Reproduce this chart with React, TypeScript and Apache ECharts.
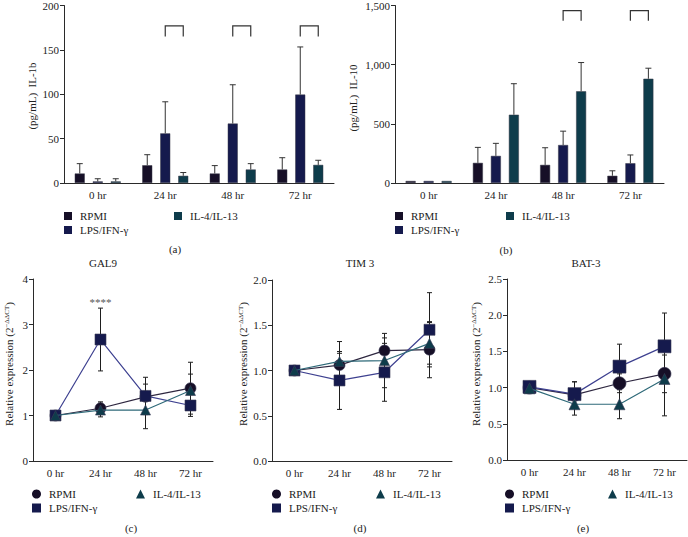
import React, { useEffect, useRef } from "react";
import * as echarts from "echarts";

// ---------- data ----------
const categories = ["0 hr", "24 hr", "48 hr", "72 hr"];
const groupNames = ["RPMI", "LPS/IFN-\u03b3", "IL-4/IL-13"];

// (a) IL-1b (pg/mL): means and SD (upper error)
const il1bRPMI = [10.7, 20, 10.7, 15.2];
const il1bRPMISd = [11.1, 11.9, 8.9, 13.3];
const il1bLPS = [1.8, 55.9, 67, 99.6];
const il1bLPSSd = [3.0, 35.6, 43.7, 53.7];
const il1bIL4 = [1.8, 8.1, 15.2, 20.4];
const il1bIL4Sd = [3.0, 3.7, 6.6, 5.2];
const il1bBracketCats = [1, 2, 3];
const il1bBracketRange = [165, 177];

// (b) IL-10 (pg/mL)
const il10RPMI = [17, 170, 153, 61];
const il10RPMISd = [0, 131, 145, 42];
const il10LPS = [17, 229, 321, 167];
const il10LPSSd = [0, 106, 117, 70];
const il10IL4 = [17, 577, 775, 881];
const il10IL4Sd = [0, 262, 243, 89];
const il10BracketCats = [2, 3];
const il10BracketRange = [1372, 1456];

// (c) GAL9 relative expression
const gal9RPMI = [1, 1.16, 1.41, 1.6];
const gal9RPMISd = [0, 0.14, 0.28, 0.57];
const gal9LPS = [1, 2.67, 1.43, 1.22];
const gal9LPSSd = [0, 0.69, 0.41, 0.24];
const gal9IL4 = [1, 1.12, 1.12, 1.55];
const gal9IL4Sd = [0, 0.15, 0.41, 0.36];
const gal9Sig = { cat: 1, value: 3.49, text: "****" };

// (d) TIM 3
const tim3RPMI = [1, 1.06, 1.22, 1.23];
const tim3RPMISd = [0, 0.13, 0.14, 0.31];
const tim3LPS = [1, 0.89, 0.98, 1.45];
const tim3LPSSd = [0, 0.32, 0.32, 0.41];
const tim3IL4 = [1, 1.1, 1.11, 1.3];
const tim3IL4Sd = [0, 0.22, 0.3, 0.23];

// (e) BAT-3
const bat3RPMI = [1, 0.9, 1.06, 1.19];
const bat3RPMISd = [0, 0.18, 0.13, 0.26];
const bat3LPS = [1.01, 0.91, 1.29, 1.57];
const bat3LPSSd = [0, 0.17, 0.31, 0.46];
const bat3IL4 = [0.99, 0.77, 0.77, 1.12];
const bat3IL4Sd = [0, 0.15, 0.2, 0.51];

// axis ticks
const il1bTicks = { min: 0, max: 200, interval: 50 };
const il10Ticks = { min: 0, max: 1500, interval: 500 };
const gal9Ticks = { min: 0, max: 4, interval: 1 };
const tim3Ticks = { min: 0, max: 2, interval: 0.5 };
const bat3Ticks = { min: 0, max: 2.5, interval: 0.5 };

// ---------- style ----------
const FONT = "'Liberation Serif', 'Times New Roman', serif";
const TXT = "#222";
const AX = "#2a2a2a";
const BAR_COLORS = ["#160f27", "#151a4d", "#0e3c4b"];
const LINE_COLORS = ["#2e2740", "#3e4190", "#2f6a79"];
const SYMBOLS = ["circle", "rect", "triangle"];
const BAR_W = 10;
const BAR_GAP = 8;

const grids = [
  { left: 64, top: 3, width: 270, height: 180 },
  { left: 395, top: 3, width: 269, height: 180 },
  { left: 33, top: 279, width: 180, height: 182 },
  { left: 272, top: 280, width: 180, height: 181 },
  { left: 507, top: 279, width: 180, height: 181 },
];

function xAxisFor(gi: number) {
  return {
    type: "category",
    gridIndex: gi,
    data: categories,
    axisLine: { lineStyle: { color: AX, width: 1 } },
    axisTick: { alignWithLabel: true, length: 4, lineStyle: { color: AX } },
    axisLabel: { fontFamily: FONT, fontSize: 11, color: TXT, margin: 6 },
  };
}

function yAxisFor(gi: number, t: any, fmt: (v: number) => string) {
  return {
    type: "value",
    gridIndex: gi,
    min: t.min,
    max: t.max,
    interval: t.interval,
    splitLine: { show: false },
    axisLine: { show: true, lineStyle: { color: AX, width: 1 } },
    axisTick: { show: true, length: 4, lineStyle: { color: AX } },
    axisLabel: { fontFamily: FONT, fontSize: 11, color: TXT, margin: 5, formatter: fmt },
  };
}

function barSeries(gi: number, k: number, vals: number[]) {
  return {
    type: "bar",
    name: groupNames[k],
    xAxisIndex: gi,
    yAxisIndex: gi,
    data: vals,
    barWidth: BAR_W,
    barGap: (BAR_GAP / BAR_W) * 100 + "%",
    itemStyle: { color: BAR_COLORS[k], borderColor: "#3a3a48", borderWidth: 0.5 },
    z: 2,
  };
}

function barErrSeries(gi: number, k: number, vals: number[], sds: number[]) {
  const data = vals.map((v, i) => [i, v, v + sds[i]]).filter((d, i) => sds[i] > 0);
  const off = (k - 1) * (BAR_W + BAR_GAP);
  return {
    type: "custom",
    name: "err-bar-" + gi + "-" + k,
    xAxisIndex: gi,
    yAxisIndex: gi,
    data,
    encode: { x: 0, y: [1, 2] },
    z: 3,
    silent: true,
    renderItem: (params: any, api: any) => {
      const c = api.value(0);
      const base = api.coord([c, api.value(1)]);
      const top = api.coord([c, api.value(2)]);
      const x = base[0] + off;
      const st = { stroke: "#333", lineWidth: 1 };
      return {
        type: "group",
        children: [
          { type: "line", shape: { x1: x, y1: base[1], x2: x, y2: top[1] }, style: st },
          { type: "line", shape: { x1: x - 3, y1: top[1], x2: x + 3, y2: top[1] }, style: st },
        ],
      };
    },
  };
}

function bracketSeries(gi: number, cats: number[], range: number[]) {
  return {
    type: "custom",
    name: "bracket-" + gi,
    xAxisIndex: gi,
    yAxisIndex: gi,
    data: cats.map((c) => [c, range[0], range[1]]),
    encode: { x: 0, y: [1, 2] },
    z: 3,
    silent: true,
    renderItem: (params: any, api: any) => {
      const c = api.value(0);
      const lo = api.coord([c, api.value(1)]);
      const hi = api.coord([c, api.value(2)]);
      const x1 = lo[0];
      const x2 = x1 + BAR_W + BAR_GAP;
      return {
        type: "polyline",
        shape: { points: [[x1, lo[1]], [x1, hi[1]], [x2, hi[1]], [x2, lo[1]]] },
        style: { stroke: "#333", lineWidth: 1.2, fill: null },
      };
    },
  };
}

function lineSeries(gi: number, k: number, vals: number[], size: number) {
  return {
    type: "line",
    name: groupNames[k],
    xAxisIndex: gi,
    yAxisIndex: gi,
    data: vals,
    symbol: SYMBOLS[k],
    symbolSize: k === 2 ? size - 1 : size,
    showAllSymbol: true,
    lineStyle: { color: LINE_COLORS[k], width: 1.2 },
    itemStyle: { color: BAR_COLORS[k], borderColor: "#3a3a55", borderWidth: 0.6 },
    z: 4 + k,
  };
}

function lineErrSeries(gi: number, k: number, vals: number[], sds: number[]) {
  const data = vals.map((v, i) => [i, v - sds[i], v + sds[i]]).filter((d, i) => sds[i] > 0);
  return {
    type: "custom",
    name: "err-line-" + gi + "-" + k,
    xAxisIndex: gi,
    yAxisIndex: gi,
    data,
    encode: { x: 0, y: [1, 2] },
    z: 3,
    silent: true,
    renderItem: (params: any, api: any) => {
      const c = api.value(0);
      const lo = api.coord([c, api.value(1)]);
      const hi = api.coord([c, api.value(2)]);
      const x = lo[0];
      const st = { stroke: "#1e1e1e", lineWidth: 1 };
      return {
        type: "group",
        children: [
          { type: "line", shape: { x1: x, y1: lo[1], x2: x, y2: hi[1] }, style: st },
          { type: "line", shape: { x1: x - 2.5, y1: lo[1], x2: x + 2.5, y2: lo[1] }, style: st },
          { type: "line", shape: { x1: x - 2.5, y1: hi[1], x2: x + 2.5, y2: hi[1] }, style: st },
        ],
      };
    },
  };
}

function sigSeries(gi: number, sig: any) {
  return {
    type: "custom",
    name: "sig-" + gi,
    xAxisIndex: gi,
    yAxisIndex: gi,
    data: [[sig.cat, sig.value]],
    encode: { x: 0, y: 1 },
    z: 6,
    silent: true,
    renderItem: (params: any, api: any) => {
      const p = api.coord([api.value(0), api.value(1)]);
      return {
        type: "text",
        x: p[0],
        y: p[1],
        style: { text: sig.text, fill: "#555", fontSize: 11, fontFamily: FONT, align: "center", verticalAlign: "middle" },
      };
    },
  };
}

function legendPair(leftA: number, leftB: number, top: number, kind: "bar" | "line") {
  const size = kind === "bar" ? 8 : 9;
  const icons = kind === "bar" ? ["rect", "rect", "rect"] : SYMBOLS;
  const ts = { fontFamily: FONT, fontSize: 11, color: TXT, lineHeight: 13, padding: [0, 0, 0, 3] };
  const item = (k: number) => ({ name: groupNames[k], icon: icons[k], itemStyle: { color: BAR_COLORS[k], borderWidth: 0 } });
  return [
    {
      orient: "vertical",
      left: leftA,
      top,
      itemWidth: size,
      itemHeight: size,
      itemGap: 1,
      padding: 0,
      selectedMode: false,
      textStyle: ts,
      data: [item(0), item(1)],
    },
    {
      orient: "vertical",
      left: leftB,
      top,
      itemWidth: size,
      itemHeight: size,
      itemGap: 1,
      padding: 0,
      selectedMode: false,
      textStyle: ts,
      data: [item(2)],
    },
  ];
}

function yLabelText(x: number, y: number, main: string, sup: string, after: string) {
  return {
    type: "text",
    x,
    y,
    rotation: Math.PI / 2,
    style: {
      text: sup ? `{a|${main}}{s|${sup}}{a|${after}}` : `{a|${main}}`,
      rich: {
        a: { fontFamily: FONT, fontSize: 11, fill: TXT },
        s: { fontFamily: FONT, fontSize: 7, fill: TXT, verticalAlign: "top", padding: [0, 0, 5, 0] },
      },
      align: "center",
      verticalAlign: "middle",
    },
  };
}

function plainText(x: number, y: number, text: string) {
  return {
    type: "text",
    x,
    y,
    style: { text, fontFamily: FONT, fontSize: 11, fill: TXT, align: "center", verticalAlign: "middle" },
  };
}

export default function App() {
  const ref = useRef<HTMLDivElement>(null);
  useEffect(() => {
    if (!ref.current) return;
    const chart = echarts.init(ref.current, null, { renderer: "svg" });
    const fmt0 = (v: number) => String(v);
    const fmtComma = (v: number) => v.toLocaleString("en-US");
    const fmt1 = (v: number) => v.toFixed(1);

    const option: any = {
      animation: false,
      backgroundColor: "#ffffff",
      grid: grids,
      xAxis: [0, 1, 2, 3, 4].map((i) => xAxisFor(i)),
      yAxis: [
        yAxisFor(0, il1bTicks, fmt0),
        yAxisFor(1, il10Ticks, fmtComma),
        yAxisFor(2, gal9Ticks, fmt0),
        yAxisFor(3, tim3Ticks, fmt1),
        yAxisFor(4, bat3Ticks, fmt1),
      ],
      legend: [
        ...legendPair(64, 174, 209.5, "bar"),
        ...legendPair(395, 506, 209.5, "bar"),
        ...legendPair(32, 136, 487.5, "line"),
        ...legendPair(272, 376, 487.5, "line"),
        ...legendPair(505, 608, 487.5, "line"),
      ],
      series: [
        barSeries(0, 0, il1bRPMI),
        barSeries(0, 1, il1bLPS),
        barSeries(0, 2, il1bIL4),
        barErrSeries(0, 0, il1bRPMI, il1bRPMISd),
        barErrSeries(0, 1, il1bLPS, il1bLPSSd),
        barErrSeries(0, 2, il1bIL4, il1bIL4Sd),
        bracketSeries(0, il1bBracketCats, il1bBracketRange),

        barSeries(1, 0, il10RPMI),
        barSeries(1, 1, il10LPS),
        barSeries(1, 2, il10IL4),
        barErrSeries(1, 0, il10RPMI, il10RPMISd),
        barErrSeries(1, 1, il10LPS, il10LPSSd),
        barErrSeries(1, 2, il10IL4, il10IL4Sd),
        bracketSeries(1, il10BracketCats, il10BracketRange),

        lineErrSeries(2, 0, gal9RPMI, gal9RPMISd),
        lineErrSeries(2, 1, gal9LPS, gal9LPSSd),
        lineErrSeries(2, 2, gal9IL4, gal9IL4Sd),
        lineSeries(2, 0, gal9RPMI, 11),
        lineSeries(2, 1, gal9LPS, 11),
        lineSeries(2, 2, gal9IL4, 11),
        sigSeries(2, gal9Sig),

        lineErrSeries(3, 0, tim3RPMI, tim3RPMISd),
        lineErrSeries(3, 1, tim3LPS, tim3LPSSd),
        lineErrSeries(3, 2, tim3IL4, tim3IL4Sd),
        lineSeries(3, 0, tim3RPMI, 11),
        lineSeries(3, 1, tim3LPS, 11),
        lineSeries(3, 2, tim3IL4, 11),

        lineErrSeries(4, 0, bat3RPMI, bat3RPMISd),
        lineErrSeries(4, 1, bat3LPS, bat3LPSSd),
        lineErrSeries(4, 2, bat3IL4, bat3IL4Sd),
        lineSeries(4, 0, bat3RPMI, 13),
        lineSeries(4, 1, bat3LPS, 13),
        lineSeries(4, 2, bat3IL4, 12),
      ],
      graphic: [
        yLabelText(32, 96, "(pg/mL)\u00a0\u00a0IL-1b", "", ""),
        yLabelText(353, 98, "(pg/mL)\u00a0\u00a0IL-10", "", ""),
        yLabelText(9, 364, "Relative expression (2", "\u2212\u0394\u0394CT", ")"),
        yLabelText(243, 364, "Relative expression (2", "\u2212\u0394\u0394CT", ")"),
        yLabelText(476, 364, "Relative expression (2", "\u2212\u0394\u0394CT", ")"),
        plainText(103, 263, "GAL9"),
        plainText(360, 263, "TIM 3"),
        plainText(586, 263, "BAT-3"),
        plainText(175, 249, "(a)"),
        plainText(506, 250, "(b)"),
        plainText(131, 528, "(c)"),
        plainText(360, 528, "(d)"),
        plainText(583, 528, "(e)"),
      ],
    };
    chart.setOption(option);
    return () => chart.dispose();
  }, []);
  return <div ref={ref} style={{ position: "fixed", left: 0, top: 0, width: 688, height: 537 }} />;
}
